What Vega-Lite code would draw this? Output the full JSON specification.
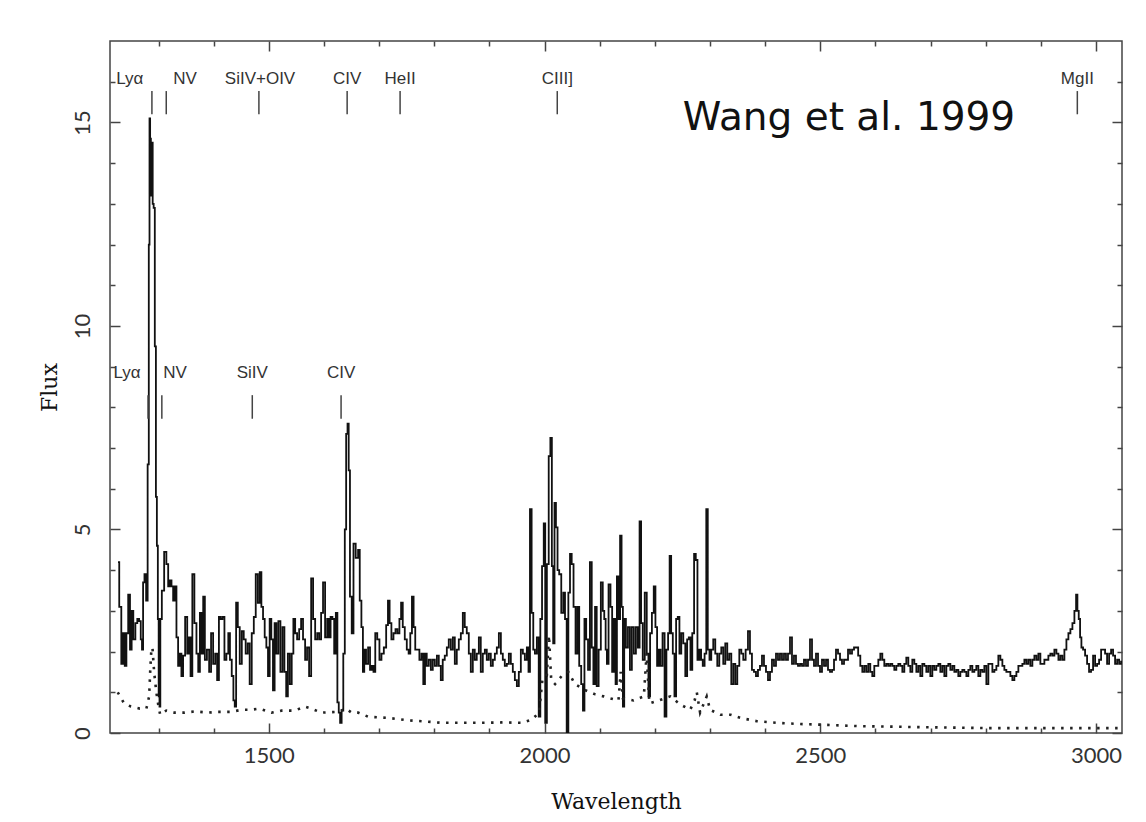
{
  "$schema": "https://vega.github.io/schema/vega-lite/v6.json",
  "width": 1012,
  "height": 692,
  "autosize": {"type": "none"},
  "padding": {"left": 110, "top": 41, "right": 24, "bottom": 89},
  "background": "white",
  "config": {
    "view": {"stroke": "#444", "strokeWidth": 1.5},
    "axis": {
      "grid": false, "domain": false, "tickColor": "#444", "tickWidth": 1.5,
      "labelFont": "Lato", "labelFontSize": 22, "labelColor": "#333",
      "titleFont": "DejaVu Serif", "titleFontSize": 22, "titleColor": "#111", "titleFontWeight": "normal",
      "labelFlush": false, "labelOverlap": false, "labelBound": false
    }
  },
  "datasets": {
    "spectrum": [
      {"wavelength":1226.5,"flux":4.2},{"wavelength":1231,"flux":3.1},{"wavelength":1234,"flux":1.7},{"wavelength":1237.5,"flux":2.45},{"wavelength":1240,"flux":1.65},{"wavelength":1243.5,"flux":2.45},{"wavelength":1246.5,"flux":3.4},{"wavelength":1250,"flux":2.05},{"wavelength":1252.5,"flux":3.0},{"wavelength":1256,"flux":2.3},{"wavelength":1260,"flux":2.7},{"wavelength":1263,"flux":2.8},{"wavelength":1266.5,"flux":2.75},{"wavelength":1269,"flux":2.3},{"wavelength":1271,"flux":2.05},{"wavelength":1273,"flux":3.7},{"wavelength":1276,"flux":3.9},{"wavelength":1279,"flux":3.25},{"wavelength":1281.5,"flux":6.6},{"wavelength":1283.2,"flux":12.0},{"wavelength":1284.1,"flux":15.1},{"wavelength":1285.4,"flux":14.6},{"wavelength":1286.9,"flux":13.2},{"wavelength":1288.5,"flux":14.5},{"wavelength":1290.3,"flux":13.0},{"wavelength":1292,"flux":12.9},{"wavelength":1294.5,"flux":9.5},{"wavelength":1296,"flux":5.8},{"wavelength":1298,"flux":4.6},{"wavelength":1299.5,"flux":2.8},{"wavelength":1301,"flux":0.9},{"wavelength":1302.5,"flux":0.65},{"wavelength":1304,"flux":2.8},{"wavelength":1308,"flux":3.5},{"wavelength":1312.4,"flux":4.45},{"wavelength":1316,"flux":4.15},{"wavelength":1319,"flux":3.6},{"wavelength":1322,"flux":3.75},{"wavelength":1325,"flux":3.6},{"wavelength":1328,"flux":3.25},{"wavelength":1331,"flux":3.6},{"wavelength":1334,"flux":2.35},{"wavelength":1337,"flux":1.65},{"wavelength":1340,"flux":1.95},{"wavelength":1343,"flux":1.4},{"wavelength":1346,"flux":1.9},{"wavelength":1350.5,"flux":2.85},{"wavelength":1353.5,"flux":1.95},{"wavelength":1356.5,"flux":2.35},{"wavelength":1359.6,"flux":1.4},{"wavelength":1363,"flux":3.9},{"wavelength":1367,"flux":2.7},{"wavelength":1370.5,"flux":1.95},{"wavelength":1373.5,"flux":1.5},{"wavelength":1376.5,"flux":2.95},{"wavelength":1379.5,"flux":1.95},{"wavelength":1382.5,"flux":3.35},{"wavelength":1385.5,"flux":1.8},{"wavelength":1390,"flux":2.05},{"wavelength":1393.5,"flux":1.5},{"wavelength":1397,"flux":2.45},{"wavelength":1401,"flux":1.7},{"wavelength":1404.5,"flux":1.95},{"wavelength":1408,"flux":1.3},{"wavelength":1411,"flux":2.85},{"wavelength":1414,"flux":2.8},{"wavelength":1418,"flux":2.85},{"wavelength":1421,"flux":1.8},{"wavelength":1425,"flux":1.95},{"wavelength":1428,"flux":2.45},{"wavelength":1431,"flux":1.8},{"wavelength":1434.5,"flux":1.4},{"wavelength":1437,"flux":0.8},{"wavelength":1439.4,"flux":0.65},{"wavelength":1442,"flux":3.2},{"wavelength":1445.5,"flux":2.6},{"wavelength":1449,"flux":1.7},{"wavelength":1453,"flux":2.5},{"wavelength":1456,"flux":2.3},{"wavelength":1460,"flux":1.95},{"wavelength":1463.5,"flux":2.2},{"wavelength":1467,"flux":1.2},{"wavelength":1471,"flux":2.45},{"wavelength":1474.5,"flux":2.85},{"wavelength":1478,"flux":3.9},{"wavelength":1482,"flux":3.2},{"wavelength":1485,"flux":3.95},{"wavelength":1488,"flux":3.1},{"wavelength":1491,"flux":2.8},{"wavelength":1494,"flux":2.35},{"wavelength":1497,"flux":2.1},{"wavelength":1500,"flux":1.4},{"wavelength":1503,"flux":2.8},{"wavelength":1506,"flux":2.3},{"wavelength":1509,"flux":1.05},{"wavelength":1512,"flux":2.7},{"wavelength":1515.6,"flux":1.95},{"wavelength":1519,"flux":2.75},{"wavelength":1523,"flux":1.5},{"wavelength":1526.5,"flux":2.6},{"wavelength":1530,"flux":1.5},{"wavelength":1533,"flux":0.9},{"wavelength":1536,"flux":1.95},{"wavelength":1540,"flux":1.2},{"wavelength":1543,"flux":1.95},{"wavelength":1546,"flux":2.8},{"wavelength":1549.5,"flux":2.45},{"wavelength":1553,"flux":2.3},{"wavelength":1557,"flux":2.55},{"wavelength":1560,"flux":2.8},{"wavelength":1564,"flux":2.3},{"wavelength":1567.6,"flux":1.8},{"wavelength":1571,"flux":2.1},{"wavelength":1575,"flux":1.4},{"wavelength":1578.5,"flux":3.8},{"wavelength":1582,"flux":2.8},{"wavelength":1586,"flux":2.3},{"wavelength":1589.5,"flux":2.45},{"wavelength":1593,"flux":2.3},{"wavelength":1596.6,"flux":2.95},{"wavelength":1600,"flux":3.7},{"wavelength":1604,"flux":2.35},{"wavelength":1607.5,"flux":2.8},{"wavelength":1610.5,"flux":2.35},{"wavelength":1613.5,"flux":2.85},{"wavelength":1617,"flux":2.8},{"wavelength":1620,"flux":1.95},{"wavelength":1623,"flux":2.95},{"wavelength":1625.6,"flux":0.75},{"wavelength":1628,"flux":0.5},{"wavelength":1630.5,"flux":0.25},{"wavelength":1633.5,"flux":0.55},{"wavelength":1636.5,"flux":1.95},{"wavelength":1639,"flux":5.0},{"wavelength":1641.4,"flux":7.35},{"wavelength":1644,"flux":7.6},{"wavelength":1645.6,"flux":6.45},{"wavelength":1648.6,"flux":3.35},{"wavelength":1652,"flux":2.45},{"wavelength":1655,"flux":4.65},{"wavelength":1660,"flux":4.3},{"wavelength":1663.7,"flux":4.5},{"wavelength":1666,"flux":3.25},{"wavelength":1669.7,"flux":2.6},{"wavelength":1671.5,"flux":1.5},{"wavelength":1674.5,"flux":2.05},{"wavelength":1678,"flux":1.7},{"wavelength":1682,"flux":2.1},{"wavelength":1685,"flux":1.55},{"wavelength":1688,"flux":1.65},{"wavelength":1691.5,"flux":1.5},{"wavelength":1694.5,"flux":2.45},{"wavelength":1698.7,"flux":2.3},{"wavelength":1702.4,"flux":1.8},{"wavelength":1706,"flux":1.95},{"wavelength":1711,"flux":2.1},{"wavelength":1714.5,"flux":2.65},{"wavelength":1717.5,"flux":3.25},{"wavelength":1720.5,"flux":2.7},{"wavelength":1724,"flux":2.3},{"wavelength":1728,"flux":2.45},{"wavelength":1731.4,"flux":2.55},{"wavelength":1735,"flux":2.45},{"wavelength":1738.6,"flux":2.8},{"wavelength":1741,"flux":3.2},{"wavelength":1744.7,"flux":2.6},{"wavelength":1748.3,"flux":2.3},{"wavelength":1752,"flux":2.05},{"wavelength":1755,"flux":1.95},{"wavelength":1758,"flux":2.45},{"wavelength":1761,"flux":3.35},{"wavelength":1764,"flux":2.6},{"wavelength":1767,"flux":2.05},{"wavelength":1771,"flux":2.05},{"wavelength":1775,"flux":1.8},{"wavelength":1778.5,"flux":1.95},{"wavelength":1781.6,"flux":1.2},{"wavelength":1784.6,"flux":1.95},{"wavelength":1788,"flux":1.65},{"wavelength":1792,"flux":1.8},{"wavelength":1795.5,"flux":1.55},{"wavelength":1799,"flux":1.8},{"wavelength":1803,"flux":1.65},{"wavelength":1806.4,"flux":1.9},{"wavelength":1810,"flux":1.65},{"wavelength":1813.6,"flux":1.3},{"wavelength":1817,"flux":1.8},{"wavelength":1821,"flux":1.9},{"wavelength":1824.5,"flux":2.1},{"wavelength":1828,"flux":2.3},{"wavelength":1832,"flux":2.05},{"wavelength":1835.4,"flux":2.35},{"wavelength":1839,"flux":1.7},{"wavelength":1842.6,"flux":2.05},{"wavelength":1846.3,"flux":2.3},{"wavelength":1850,"flux":2.45},{"wavelength":1853.5,"flux":2.95},{"wavelength":1857,"flux":2.6},{"wavelength":1860.8,"flux":2.45},{"wavelength":1864.4,"flux":1.95},{"wavelength":1868,"flux":1.5},{"wavelength":1871.7,"flux":2.05},{"wavelength":1875,"flux":1.8},{"wavelength":1879,"flux":1.95},{"wavelength":1882.6,"flux":2.35},{"wavelength":1886,"flux":1.5},{"wavelength":1890,"flux":1.95},{"wavelength":1893.4,"flux":2.05},{"wavelength":1897,"flux":1.8},{"wavelength":1900.7,"flux":1.95},{"wavelength":1904.3,"flux":1.65},{"wavelength":1908,"flux":1.8},{"wavelength":1911.6,"flux":1.95},{"wavelength":1915.2,"flux":2.1},{"wavelength":1919,"flux":2.45},{"wavelength":1922.5,"flux":1.95},{"wavelength":1926,"flux":1.8},{"wavelength":1929.7,"flux":1.65},{"wavelength":1933.4,"flux":1.7},{"wavelength":1937,"flux":1.95},{"wavelength":1940.6,"flux":1.7},{"wavelength":1944.2,"flux":1.5},{"wavelength":1948,"flux":1.3},{"wavelength":1951.5,"flux":1.15},{"wavelength":1955.1,"flux":1.5},{"wavelength":1958.8,"flux":2.05},{"wavelength":1962.4,"flux":1.95},{"wavelength":1966,"flux":1.8},{"wavelength":1969.7,"flux":2.1},{"wavelength":1972,"flux":1.5},{"wavelength":1975,"flux":5.5},{"wavelength":1978,"flux":2.95},{"wavelength":1981,"flux":2.05},{"wavelength":1984,"flux":1.95},{"wavelength":1988,"flux":2.35},{"wavelength":1990.8,"flux":0.4},{"wavelength":1993.8,"flux":2.8},{"wavelength":1997,"flux":4.1},{"wavelength":2000,"flux":5.15},{"wavelength":2002.3,"flux":0.25},{"wavelength":2006,"flux":4.15},{"wavelength":2009,"flux":6.8},{"wavelength":2012,"flux":7.25},{"wavelength":2014.4,"flux":4.1},{"wavelength":2016.8,"flux":2.2},{"wavelength":2019.2,"flux":5.65},{"wavelength":2022,"flux":5.05},{"wavelength":2025,"flux":4.0},{"wavelength":2028,"flux":3.9},{"wavelength":2032.5,"flux":2.95},{"wavelength":2035.5,"flux":3.45},{"wavelength":2038.6,"flux":2.8},{"wavelength":2041.6,"flux":0.0},{"wavelength":2044.6,"flux":3.45},{"wavelength":2047.6,"flux":4.4},{"wavelength":2050.7,"flux":4.15},{"wavelength":2054.3,"flux":3.1},{"wavelength":2058,"flux":1.95},{"wavelength":2061,"flux":3.1},{"wavelength":2064.6,"flux":1.65},{"wavelength":2068.2,"flux":1.2},{"wavelength":2071,"flux":0.55},{"wavelength":2073.6,"flux":2.8},{"wavelength":2077.3,"flux":2.3},{"wavelength":2080.3,"flux":1.55},{"wavelength":2084,"flux":4.2},{"wavelength":2087,"flux":2.1},{"wavelength":2090,"flux":1.2},{"wavelength":2093,"flux":3.1},{"wavelength":2096,"flux":1.15},{"wavelength":2100,"flux":2.05},{"wavelength":2104,"flux":3.7},{"wavelength":2107,"flux":3.0},{"wavelength":2109.4,"flux":2.8},{"wavelength":2112,"flux":2.05},{"wavelength":2114,"flux":1.7},{"wavelength":2118,"flux":3.65},{"wavelength":2121,"flux":3.1},{"wavelength":2124,"flux":1.5},{"wavelength":2127.5,"flux":2.8},{"wavelength":2130,"flux":1.2},{"wavelength":2132.3,"flux":3.85},{"wavelength":2135.4,"flux":2.8},{"wavelength":2138.4,"flux":4.85},{"wavelength":2140.8,"flux":3.1},{"wavelength":2143.2,"flux":0.65},{"wavelength":2145.6,"flux":2.8},{"wavelength":2149.3,"flux":2.1},{"wavelength":2153,"flux":2.6},{"wavelength":2156.5,"flux":1.55},{"wavelength":2160,"flux":2.6},{"wavelength":2163.8,"flux":1.95},{"wavelength":2167.4,"flux":2.6},{"wavelength":2171,"flux":2.1},{"wavelength":2173.5,"flux":5.2},{"wavelength":2176.5,"flux":2.7},{"wavelength":2179.5,"flux":1.8},{"wavelength":2183.7,"flux":3.45},{"wavelength":2186.8,"flux":1.95},{"wavelength":2189.8,"flux":0.9},{"wavelength":2192.8,"flux":2.45},{"wavelength":2196.4,"flux":2.95},{"wavelength":2199.5,"flux":3.6},{"wavelength":2202.5,"flux":2.6},{"wavelength":2205.5,"flux":1.65},{"wavelength":2208.5,"flux":2.05},{"wavelength":2212,"flux":1.65},{"wavelength":2215.8,"flux":2.45},{"wavelength":2219.4,"flux":0.4},{"wavelength":2222.4,"flux":2.05},{"wavelength":2225.5,"flux":2.45},{"wavelength":2228,"flux":4.35},{"wavelength":2231,"flux":2.45},{"wavelength":2234,"flux":1.95},{"wavelength":2237,"flux":0.9},{"wavelength":2240,"flux":2.8},{"wavelength":2243,"flux":2.85},{"wavelength":2246,"flux":1.95},{"wavelength":2249.7,"flux":2.45},{"wavelength":2253.3,"flux":2.2},{"wavelength":2257,"flux":1.4},{"wavelength":2260,"flux":2.3},{"wavelength":2263,"flux":2.35},{"wavelength":2266,"flux":1.55},{"wavelength":2269.6,"flux":2.45},{"wavelength":2272.6,"flux":4.4},{"wavelength":2275.7,"flux":4.25},{"wavelength":2278.7,"flux":1.8},{"wavelength":2282.3,"flux":2.05},{"wavelength":2285.3,"flux":1.8},{"wavelength":2288.3,"flux":1.65},{"wavelength":2292,"flux":1.95},{"wavelength":2294.4,"flux":5.5},{"wavelength":2297.4,"flux":2.05},{"wavelength":2300.5,"flux":1.8},{"wavelength":2304,"flux":2.05},{"wavelength":2307.7,"flux":2.3},{"wavelength":2311.3,"flux":1.95},{"wavelength":2315,"flux":1.65},{"wavelength":2318.6,"flux":1.95},{"wavelength":2322.2,"flux":2.1},{"wavelength":2325.8,"flux":1.7},{"wavelength":2329.5,"flux":2.2},{"wavelength":2333,"flux":1.8},{"wavelength":2336.7,"flux":1.95},{"wavelength":2340.4,"flux":1.2},{"wavelength":2344,"flux":1.7},{"wavelength":2347.6,"flux":1.2},{"wavelength":2351.2,"flux":1.65},{"wavelength":2355,"flux":2.05},{"wavelength":2358.5,"flux":1.95},{"wavelength":2362.1,"flux":1.8},{"wavelength":2367,"flux":2.05},{"wavelength":2370.6,"flux":2.5},{"wavelength":2374.2,"flux":1.95},{"wavelength":2377.8,"flux":1.55},{"wavelength":2381.5,"flux":1.5},{"wavelength":2385.1,"flux":1.4},{"wavelength":2388.7,"flux":1.55},{"wavelength":2392.4,"flux":1.65},{"wavelength":2396,"flux":1.9},{"wavelength":2399.6,"flux":1.65},{"wavelength":2403.3,"flux":1.5},{"wavelength":2406.9,"flux":1.3},{"wavelength":2410.5,"flux":1.5},{"wavelength":2414.1,"flux":1.8},{"wavelength":2417.8,"flux":1.65},{"wavelength":2421.4,"flux":1.95},{"wavelength":2425,"flux":1.8},{"wavelength":2428.6,"flux":1.95},{"wavelength":2432.3,"flux":1.8},{"wavelength":2435.9,"flux":1.95},{"wavelength":2439.5,"flux":1.8},{"wavelength":2443.2,"flux":1.95},{"wavelength":2446.8,"flux":2.35},{"wavelength":2450.4,"flux":1.7},{"wavelength":2454,"flux":1.9},{"wavelength":2457.7,"flux":1.7},{"wavelength":2461.3,"flux":1.65},{"wavelength":2465,"flux":1.7},{"wavelength":2468.5,"flux":1.65},{"wavelength":2472.2,"flux":1.8},{"wavelength":2475.8,"flux":1.65},{"wavelength":2479.4,"flux":1.8},{"wavelength":2483.1,"flux":2.3},{"wavelength":2486.7,"flux":1.8},{"wavelength":2490.3,"flux":1.65},{"wavelength":2494,"flux":1.95},{"wavelength":2497.6,"flux":1.65},{"wavelength":2501.2,"flux":1.5},{"wavelength":2504.8,"flux":1.8},{"wavelength":2508.5,"flux":1.65},{"wavelength":2512.1,"flux":1.8},{"wavelength":2515.7,"flux":1.55},{"wavelength":2519.4,"flux":1.5},{"wavelength":2523,"flux":1.55},{"wavelength":2526.6,"flux":1.8},{"wavelength":2530.2,"flux":2.05},{"wavelength":2533.9,"flux":1.95},{"wavelength":2537.5,"flux":1.8},{"wavelength":2541.1,"flux":1.7},{"wavelength":2544.8,"flux":1.8},{"wavelength":2548.4,"flux":1.8},{"wavelength":2552,"flux":2.05},{"wavelength":2555.6,"flux":1.95},{"wavelength":2559.3,"flux":2.05},{"wavelength":2562.9,"flux":2.1},{"wavelength":2566.5,"flux":2.1},{"wavelength":2570.7,"flux":1.9},{"wavelength":2574.3,"flux":1.65},{"wavelength":2578,"flux":1.5},{"wavelength":2581.5,"flux":1.65},{"wavelength":2585.2,"flux":1.5},{"wavelength":2588.8,"flux":1.7},{"wavelength":2592.4,"flux":1.5},{"wavelength":2596,"flux":1.4},{"wavelength":2599.7,"flux":1.65},{"wavelength":2603.3,"flux":1.65},{"wavelength":2607,"flux":1.8},{"wavelength":2610.6,"flux":1.95},{"wavelength":2614.2,"flux":1.8},{"wavelength":2617.8,"flux":1.65},{"wavelength":2621.5,"flux":1.7},{"wavelength":2625,"flux":1.65},{"wavelength":2628.7,"flux":1.7},{"wavelength":2632.3,"flux":1.65},{"wavelength":2636,"flux":1.55},{"wavelength":2639.6,"flux":1.65},{"wavelength":2643.2,"flux":1.7},{"wavelength":2646.9,"flux":1.65},{"wavelength":2650.5,"flux":1.5},{"wavelength":2654.1,"flux":1.7},{"wavelength":2657.7,"flux":1.85},{"wavelength":2661.4,"flux":1.65},{"wavelength":2665,"flux":1.5},{"wavelength":2668.6,"flux":1.8},{"wavelength":2672.3,"flux":1.7},{"wavelength":2675.9,"flux":1.5},{"wavelength":2679.5,"flux":1.65},{"wavelength":2683.1,"flux":1.4},{"wavelength":2686.8,"flux":1.7},{"wavelength":2690.4,"flux":1.65},{"wavelength":2694,"flux":1.5},{"wavelength":2697.6,"flux":1.65},{"wavelength":2701.3,"flux":1.4},{"wavelength":2704.9,"flux":1.65},{"wavelength":2708.5,"flux":1.55},{"wavelength":2712.2,"flux":1.65},{"wavelength":2715.8,"flux":1.7},{"wavelength":2719.4,"flux":1.5},{"wavelength":2723,"flux":1.65},{"wavelength":2726.7,"flux":1.4},{"wavelength":2730.3,"flux":1.65},{"wavelength":2733.9,"flux":1.7},{"wavelength":2737.6,"flux":1.55},{"wavelength":2741.2,"flux":1.65},{"wavelength":2744.8,"flux":1.5},{"wavelength":2748.4,"flux":1.55},{"wavelength":2752,"flux":1.4},{"wavelength":2755.7,"flux":1.5},{"wavelength":2759.3,"flux":1.55},{"wavelength":2763,"flux":1.5},{"wavelength":2766.6,"flux":1.4},{"wavelength":2770.2,"flux":1.55},{"wavelength":2773.8,"flux":1.65},{"wavelength":2777.5,"flux":1.5},{"wavelength":2781,"flux":1.55},{"wavelength":2784.7,"flux":1.65},{"wavelength":2788.3,"flux":1.4},{"wavelength":2792,"flux":1.55},{"wavelength":2795.6,"flux":1.5},{"wavelength":2799.2,"flux":1.65},{"wavelength":2802.9,"flux":1.2},{"wavelength":2806.5,"flux":1.7},{"wavelength":2810.1,"flux":1.7},{"wavelength":2813.8,"flux":1.5},{"wavelength":2817.4,"flux":1.55},{"wavelength":2821,"flux":1.65},{"wavelength":2824.6,"flux":1.9},{"wavelength":2828.3,"flux":1.8},{"wavelength":2831.9,"flux":1.65},{"wavelength":2835.5,"flux":1.55},{"wavelength":2839.1,"flux":1.5},{"wavelength":2842.8,"flux":1.5},{"wavelength":2846.4,"flux":1.4},{"wavelength":2850,"flux":1.3},{"wavelength":2853.7,"flux":1.4},{"wavelength":2857.3,"flux":1.5},{"wavelength":2860.9,"flux":1.65},{"wavelength":2864.5,"flux":1.65},{"wavelength":2868.2,"flux":1.7},{"wavelength":2871.8,"flux":1.8},{"wavelength":2875.4,"flux":1.7},{"wavelength":2879,"flux":1.8},{"wavelength":2882.7,"flux":1.65},{"wavelength":2886.3,"flux":1.8},{"wavelength":2890,"flux":1.9},{"wavelength":2893.6,"flux":1.8},{"wavelength":2897.2,"flux":1.95},{"wavelength":2900.8,"flux":1.7},{"wavelength":2904.5,"flux":1.7},{"wavelength":2908,"flux":1.8},{"wavelength":2911.7,"flux":1.8},{"wavelength":2915.3,"flux":1.9},{"wavelength":2919,"flux":1.95},{"wavelength":2922.6,"flux":1.9},{"wavelength":2926.2,"flux":2.05},{"wavelength":2929.9,"flux":1.95},{"wavelength":2933.5,"flux":1.8},{"wavelength":2937,"flux":1.9},{"wavelength":2940.7,"flux":1.8},{"wavelength":2944.4,"flux":2.05},{"wavelength":2948,"flux":2.3},{"wavelength":2951.6,"flux":2.45},{"wavelength":2955.3,"flux":2.55},{"wavelength":2958.9,"flux":2.7},{"wavelength":2962.5,"flux":3.0},{"wavelength":2965,"flux":3.4},{"wavelength":2967.3,"flux":3.0},{"wavelength":2969.8,"flux":2.8},{"wavelength":2972.2,"flux":2.35},{"wavelength":2974.6,"flux":2.1},{"wavelength":2978.2,"flux":2.05},{"wavelength":2981.9,"flux":1.9},{"wavelength":2985.5,"flux":1.7},{"wavelength":2989,"flux":1.5},{"wavelength":2992.7,"flux":1.55},{"wavelength":2996.4,"flux":1.9},{"wavelength":3000,"flux":1.65},{"wavelength":3003.6,"flux":1.7},{"wavelength":3007.3,"flux":1.8},{"wavelength":3010.9,"flux":2.05},{"wavelength":3014.5,"flux":2.05},{"wavelength":3018.1,"flux":1.95},{"wavelength":3021.8,"flux":1.7},{"wavelength":3025.4,"flux":1.95},{"wavelength":3029,"flux":2.05},{"wavelength":3032.6,"flux":1.9},{"wavelength":3036.3,"flux":1.7},{"wavelength":3040,"flux":1.8},{"wavelength":3043.5,"flux":1.7},{"wavelength":3047,"flux":1.75}
    ],
    "sigma": [
      {"wavelength":1226,"flux":1.0},{"wavelength":1237.5,"flux":0.73},{"wavelength":1250,"flux":0.65},{"wavelength":1266,"flux":0.6},{"wavelength":1278,"flux":0.6},{"wavelength":1283,"flux":0.9},{"wavelength":1285,"flux":1.55},{"wavelength":1287,"flux":2.05},{"wavelength":1289,"flux":2.1},{"wavelength":1292,"flux":1.5},{"wavelength":1296,"flux":1.0},{"wavelength":1300,"flux":0.65},{"wavelength":1303,"flux":0.45},{"wavelength":1314,"flux":0.55},{"wavelength":1329,"flux":0.5},{"wavelength":1347,"flux":0.5},{"wavelength":1366,"flux":0.53},{"wavelength":1390,"flux":0.5},{"wavelength":1408,"flux":0.52},{"wavelength":1432,"flux":0.52},{"wavelength":1450,"flux":0.57},{"wavelength":1468,"flux":0.57},{"wavelength":1483,"flux":0.6},{"wavelength":1505,"flux":0.5},{"wavelength":1523,"flux":0.55},{"wavelength":1547,"flux":0.55},{"wavelength":1565,"flux":0.65},{"wavelength":1577,"flux":0.6},{"wavelength":1595,"flux":0.5},{"wavelength":1625,"flux":0.52},{"wavelength":1640,"flux":0.6},{"wavelength":1650,"flux":0.5},{"wavelength":1662,"flux":0.5},{"wavelength":1680,"flux":0.4},{"wavelength":1717,"flux":0.37},{"wavelength":1753,"flux":0.31},{"wavelength":1777,"flux":0.29},{"wavelength":1814,"flux":0.25},{"wavelength":1850,"flux":0.25},{"wavelength":1886,"flux":0.25},{"wavelength":1922,"flux":0.26},{"wavelength":1959,"flux":0.25},{"wavelength":1977,"flux":0.33},{"wavelength":1990,"flux":0.5},{"wavelength":1996,"flux":1.3},{"wavelength":2004,"flux":1.4},{"wavelength":2008,"flux":2.4},{"wavelength":2012,"flux":1.3},{"wavelength":2019,"flux":1.2},{"wavelength":2031,"flux":1.4},{"wavelength":2043,"flux":1.5},{"wavelength":2055,"flux":1.2},{"wavelength":2074,"flux":1.05},{"wavelength":2092,"flux":0.95},{"wavelength":2107,"flux":0.9},{"wavelength":2119,"flux":0.85},{"wavelength":2134,"flux":0.8},{"wavelength":2138,"flux":1.5},{"wavelength":2142,"flux":0.85},{"wavelength":2161,"flux":0.8},{"wavelength":2180,"flux":0.9},{"wavelength":2185,"flux":1.95},{"wavelength":2190,"flux":0.73},{"wavelength":2207,"flux":0.8},{"wavelength":2228,"flux":0.9},{"wavelength":2246,"flux":0.7},{"wavelength":2264,"flux":0.57},{"wavelength":2272,"flux":0.8},{"wavelength":2276,"flux":1.0},{"wavelength":2282,"flux":0.5},{"wavelength":2294,"flux":0.9},{"wavelength":2300,"flux":0.57},{"wavelength":2319,"flux":0.45},{"wavelength":2337,"flux":0.45},{"wavelength":2355,"flux":0.37},{"wavelength":2385,"flux":0.29},{"wavelength":2421,"flux":0.25},{"wavelength":2464,"flux":0.22},{"wavelength":2512,"flux":0.2},{"wavelength":2566,"flux":0.17},{"wavelength":2700,"flux":0.14},{"wavelength":2805,"flux":0.12},{"wavelength":3047,"flux":0.12}
    ],
    "lines": [
      {"ion":"Lyα","tick":1288,"label":1248,"set":"upper"},
      {"ion":"NV","tick":1314,"label":1348,"set":"upper"},
      {"ion":"SiIV+OIV","tick":1482,"label":1484,"set":"upper"},
      {"ion":"CIV","tick":1642,"label":1642,"set":"upper"},
      {"ion":"HeII","tick":1738,"label":1738,"set":"upper"},
      {"ion":"CIII]","tick":2023,"label":2023,"set":"upper"},
      {"ion":"MgII","tick":2966,"label":2966,"set":"upper"},
      {"ion":"Lyα","tick":1281,"label":1243,"set":"lower"},
      {"ion":"NV","tick":1306,"label":1330,"set":"lower"},
      {"ion":"SiIV","tick":1470,"label":1470,"set":"lower"},
      {"ion":"CIV","tick":1631,"label":1631,"set":"lower"}
    ],
    "note": [{"text":"Wang et al. 1999","wavelength":2552,"flux":14.81}]
  },
  "resolve": {"axis": {"x": "independent", "y": "independent"}},
  "layer": [
    {
      "data": {"name": "spectrum"},
      "mark": {"type": "line", "interpolate": "step", "color": "#111", "strokeWidth": 1.8, "clip": true},
      "encoding": {
        "x": {"field": "wavelength", "type": "quantitative",
              "scale": {"domain": [1212, 3047], "nice": false, "zero": false},
              "axis": {"orient": "bottom", "values": [1500, 2000, 2500, 3000], "format": "d", "tickSize": -10, "labelPadding": 22, "title": "Wavelength", "titlePadding": 25}},
        "y": {"field": "flux", "type": "quantitative",
              "scale": {"domain": [0, 17], "nice": false, "zero": false},
              "axis": {"orient": "left", "values": [0, 5, 10, 15], "format": "d", "tickSize": -10, "labelAngle": -90, "labelPadding": 26, "title": "Flux", "titlePadding": 10}}
      }
    },
    {
      "data": {"name": "sigma"},
      "mark": {"type": "line", "color": "#222", "strokeWidth": 2.6, "strokeDash": [2.5, 6.5], "clip": true},
      "encoding": {
        "x": {"field": "wavelength", "type": "quantitative",
              "scale": {"domain": [1212, 3047], "nice": false, "zero": false},
              "axis": {"orient": "bottom", "values": [1300,1400,1600,1700,1800,1900,2100,2200,2300,2400,2600,2700,2800,2900], "tickSize": -5, "labels": false, "title": null}},
        "y": {"field": "flux", "type": "quantitative",
              "scale": {"domain": [0, 17], "nice": false, "zero": false},
              "axis": {"orient": "left", "values": [1,2,3,4,6,7,8,9,11,12,13,14,16], "tickSize": -5, "labels": false, "title": null}}
      }
    },
    {
      "data": {"name": "lines"},
      "transform": [{"filter": "datum.set === 'upper'"}],
      "mark": {"type": "rule", "color": "#444", "strokeWidth": 1.5},
      "encoding": {
        "x": {"field": "tick", "type": "quantitative",
              "scale": {"domain": [1212, 3047], "nice": false, "zero": false},
              "axis": {"orient": "top", "values": [1500, 2000, 2500, 3000], "tickSize": -10, "labels": false, "title": null}},
        "y": {"datum": 15.2, "type": "quantitative",
              "scale": {"domain": [0, 17], "nice": false, "zero": false},
              "axis": {"orient": "right", "values": [0, 5, 10, 15], "tickSize": -10, "labels": false, "title": null}},
        "y2": {"datum": 15.77}
      }
    },
    {
      "data": {"name": "lines"},
      "transform": [{"filter": "datum.set === 'lower'"}],
      "mark": {"type": "rule", "color": "#444", "strokeWidth": 1.5},
      "encoding": {
        "x": {"field": "tick", "type": "quantitative",
              "scale": {"domain": [1212, 3047], "nice": false, "zero": false},
              "axis": {"orient": "top", "values": [1300,1400,1600,1700,1800,1900,2100,2200,2300,2400,2600,2700,2800,2900], "tickSize": -5, "labels": false, "title": null}},
        "y": {"datum": 7.72, "type": "quantitative",
              "scale": {"domain": [0, 17], "nice": false, "zero": false},
              "axis": {"orient": "right", "values": [1,2,3,4,6,7,8,9,11,12,13,14,16], "tickSize": -5, "labels": false, "title": null}},
        "y2": {"datum": 8.3}
      }
    },
    {
      "data": {"name": "lines"},
      "transform": [{"filter": "datum.set === 'upper'"}],
      "mark": {"type": "text", "font": "Liberation Sans", "fontSize": 17, "color": "#333", "align": "center", "baseline": "alphabetic"},
      "encoding": {
        "x": {"field": "label", "type": "quantitative", "scale": {"domain": [1212, 3047], "nice": false, "zero": false}, "axis": null},
        "y": {"datum": 15.95, "type": "quantitative", "scale": {"domain": [0, 17], "nice": false, "zero": false}, "axis": null},
        "text": {"field": "ion"}
      }
    },
    {
      "data": {"name": "lines"},
      "transform": [{"filter": "datum.set === 'lower'"}],
      "mark": {"type": "text", "font": "Liberation Sans", "fontSize": 17, "color": "#333", "align": "center", "baseline": "alphabetic"},
      "encoding": {
        "x": {"field": "label", "type": "quantitative", "scale": {"domain": [1212, 3047], "nice": false, "zero": false}, "axis": null},
        "y": {"datum": 8.71, "type": "quantitative", "scale": {"domain": [0, 17], "nice": false, "zero": false}, "axis": null},
        "text": {"field": "ion"}
      }
    },
    {
      "data": {"name": "note"},
      "mark": {"type": "text", "font": "DejaVu Sans", "fontSize": 39, "color": "#111", "align": "center", "baseline": "alphabetic"},
      "encoding": {
        "x": {"field": "wavelength", "type": "quantitative", "scale": {"domain": [1212, 3047], "nice": false, "zero": false}, "axis": null},
        "y": {"field": "flux", "type": "quantitative", "scale": {"domain": [0, 17], "nice": false, "zero": false}, "axis": null},
        "text": {"field": "text"}
      }
    }
  ]
}
